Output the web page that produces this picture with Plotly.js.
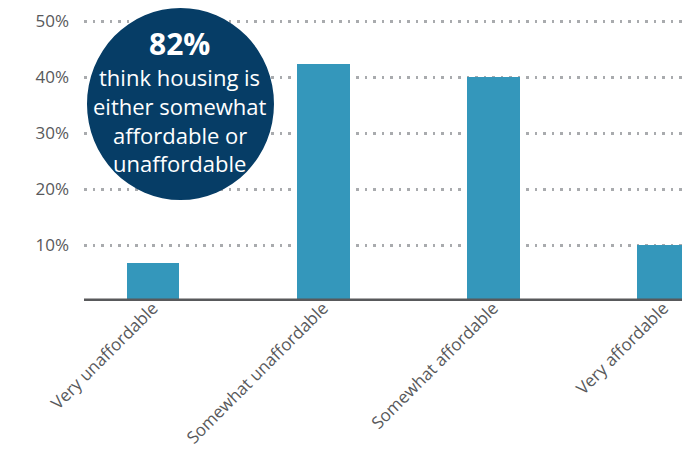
<!DOCTYPE html>
<html>
<head>
<meta charset="utf-8">
<script src="https://cdn.plot.ly/plotly-3.0.1.min.js"></script>
<style>html,body{margin:0;padding:0;background:#fff;}#chart{width:682px;height:462px;}</style>
</head>
<body>
<div id="chart"></div>
<script>
// Data
var categories = ["Very unaffordable", "Somewhat unaffordable", "Somewhat affordable", "Very affordable"];
var shares = [0.068, 0.423, 0.40, 0.10];
var yTickValues = [0.1, 0.2, 0.3, 0.4, 0.5];
var yTickLabels = ["10%", "20%", "30%", "40%", "50%"];
var calloutHeadline = "82%";
var calloutLines = ["think housing is", "either somewhat", "affordable or", "unaffordable"];

var FONT = "'Open Sans', Lato, sans-serif";
var GRAY = "#58595b";

var trace = {
  type: "bar",
  x: categories,
  y: shares,
  width: 0.31,
  marker: {color: "#3497bb", line: {width: 0}},
  hoverinfo: "none"
};

var lineY = [0.770, 0.670, 0.570, 0.474];
var annotations = [{
  xref: "paper", yref: "paper", x: 0.1605, y: 0.886,
  xanchor: "center", yanchor: "middle", showarrow: false,
  text: "<b>" + calloutHeadline + "</b>",
  font: {family: FONT, size: 30, color: "#ffffff"}
}];
calloutLines.forEach(function (t, i) {
  annotations.push({
    xref: "paper", yref: "paper", x: 0.1605, y: lineY[i],
    xanchor: "center", yanchor: "middle", showarrow: false,
    text: t,
    font: {family: FONT, size: 22, color: "#ffffff"}
  });
});

var layout = {
  width: 682, height: 462,
  margin: {l: 84, r: 0, t: 10, b: 161, pad: 0},
  paper_bgcolor: "#ffffff", plot_bgcolor: "#ffffff",
  showlegend: false,
  bargap: 0,
  xaxis: {
    type: "category",
    range: [-0.406, 3.109],
    showgrid: false, zeroline: false, showline: false,
    ticks: "", tickangle: -45,
    ticklabelstandoff: -7,
    tickfont: {family: FONT, size: 17, color: GRAY},
    fixedrange: true
  },
  yaxis: {
    range: [0, 0.52],
    tickvals: yTickValues, ticktext: yTickLabels,
    showgrid: true, gridcolor: "#a9abae", gridwidth: 3, griddash: "2.5px,6px",
    zeroline: false, showline: false, ticks: "",
    ticklabelstandoff: 14,
    tickfont: {family: FONT, size: 17, color: GRAY},
    fixedrange: true
  },
  shapes: [
    {type: "line", xref: "paper", yref: "y", x0: 0, x1: 1, y0: 0, y1: 0,
     line: {color: GRAY, width: 5}, layer: "above"},
    {type: "circle", xref: "paper", yref: "paper",
     x0: 0.005, x1: 0.3177, y0: 0.347, y1: 1.007,
     fillcolor: "#063d66", line: {width: 0}, layer: "above"}
  ],
  annotations: annotations
};

Plotly.newPlot("chart", [trace], layout, {displayModeBar: false, staticPlot: true});
</script>
</body>
</html>
